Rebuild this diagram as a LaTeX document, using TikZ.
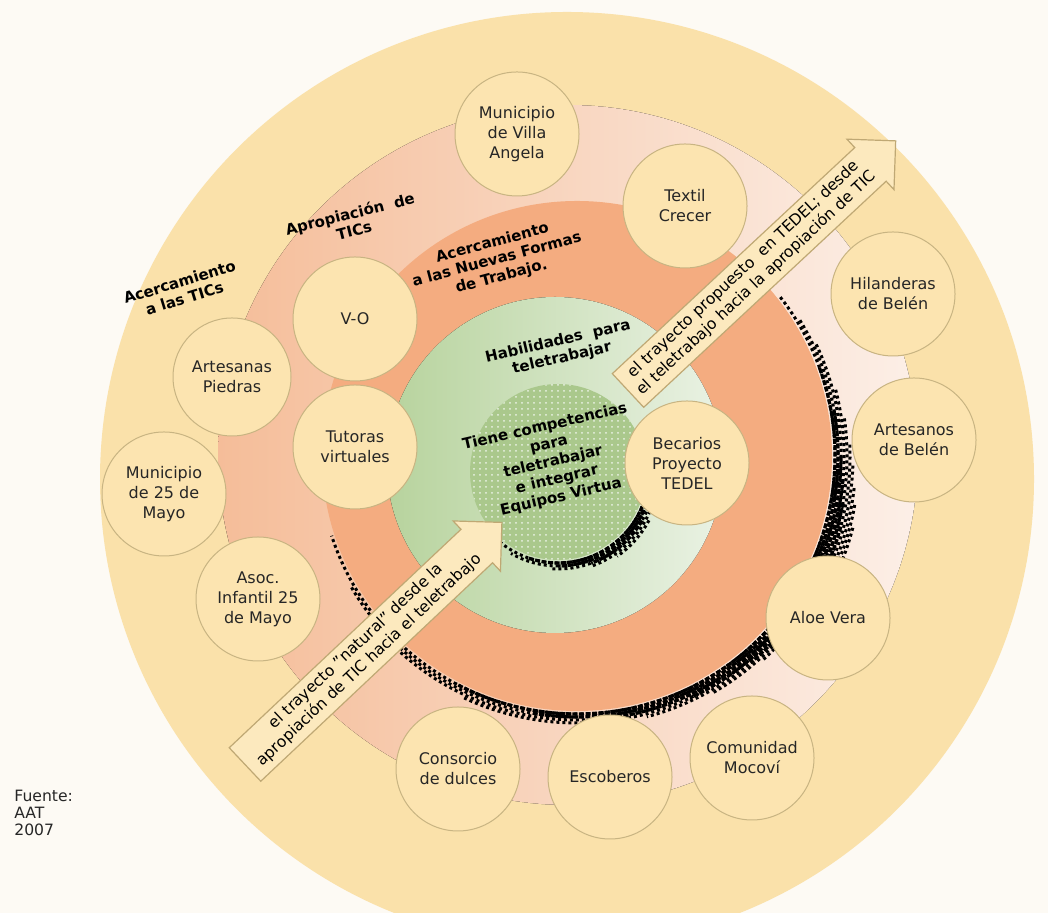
\documentclass[tikz,border=0pt]{standalone}
\usepackage{fontspec}
\setmainfont{DejaVu Sans}
\usetikzlibrary{patterns}
\definecolor{bgc}{HTML}{FDFAF4}
\definecolor{yel}{HTML}{FAE1AA}
\definecolor{salL}{HTML}{F5BD99}
\definecolor{salR}{HTML}{FCEFE7}
\definecolor{ora}{HTML}{F4AC80}
\definecolor{grL}{HTML}{B7D39D}
\definecolor{grR}{HTML}{EAF2E4}
\definecolor{grIn}{HTML}{AAC88C}
\definecolor{orgfill}{HTML}{FCE4B0}
\definecolor{orgline}{HTML}{C8B482}
\definecolor{arrfill}{HTML}{FCE9BE}
\definecolor{arrline}{HTML}{BFA874}
\definecolor{txt}{HTML}{262626}
\begin{document}
\begin{tikzpicture}[x=0.5pt,y=0.5pt,
  org/.style={circle, draw=orgline, line width=0.5pt, fill=orgfill, minimum size=62pt, inner sep=0pt, align=center, text=txt, font=\fontsize{8}{10}\selectfont},
  ringlabel/.style={align=center, font=\bfseries\fontsize{7.5}{8.7}\selectfont, text=black, inner sep=0pt},
  arrowtext/.style={align=center, font=\fontsize{7.8}{9.5}\selectfont, text=black, inner sep=0pt},
  blockarrow/.style={fill=arrfill, draw=arrline, line width=0.6pt, line join=miter},
  halftone/.style={black, line width=1.5pt, dash pattern=on 1.5pt off 1.5pt},
  halfcore/.style={black, line width=1.6pt, dash pattern=on 2.5pt off 0.8pt}
]
\useasboundingbox (0,0) rectangle (1048,913);
\clip (0,0) rectangle (1048,913);
\fill[bgc] (0,0) rectangle (1048,913);
% rings
\fill[yel] (567,434) circle[radius=467];
\fill[left color=salL, right color=salR] (568,458) circle[radius=350];
% halftone shadow of the orange ring
\foreach \r/\a/\b/\ph in {258/38/-162/0pt, 261/32/-150/1.5pt, 264/25/-140/0pt, 267/15/-115/1.5pt, 270/8/-75/0pt, 273/3/-60/1.5pt, 276/-2/-48/0pt, 279/-6/-40/1.5pt, 282/-10/-32/0pt, 285/-14/-26/1.5pt}
  \draw[halftone, dash phase=\ph] (577,457) ++(\a:\r) arc[start angle=\a, end angle=\b, radius=\r];
\foreach \r/\a/\b in {258/20/-118, 261/10/-100, 264/0/-85, 267/-5/-65, 270/-10/-50, 273/-15/-38}
  \draw[halfcore] (577,457) ++(\a:\r) arc[start angle=\a, end angle=\b, radius=\r];
\fill[ora] (577,457) circle[radius=255];
\fill[left color=grL, right color=grR] (555,448) circle[radius=168];
% halftone shadow of the inner circle
\foreach \r/\a/\b/\ph in {91/8/-135/0pt, 94/0/-120/1.5pt, 97/-10/-95/0pt, 100/-18/-70/1.5pt, 103/-28/-55/0pt}
  \draw[halftone, dash phase=\ph] (558,441) ++(\a:\r) arc[start angle=\a, end angle=\b, radius=\r];
\foreach \r/\a/\b in {91/-10/-110, 94/-20/-90, 97/-30/-70}
  \draw[halfcore] (558,441) ++(\a:\r) arc[start angle=\a, end angle=\b, radius=\r];
\fill[grIn] (558,441) circle[radius=88];
\fill[pattern=dots, pattern color=grR] (558,441) circle[radius=88];
% organisations
\node[org] (villa) at (517,779) {Municipio\\de Villa\\Angela};
\node[org] (textil) at (685,707) {Textil\\Crecer};
\node[org] (hiland) at (893,619) {Hilanderas\\de Belén};
\node[org] (artesanos) at (914,473) {Artesanos\\de Belén};
\node[org] (aloe) at (828,295) {Aloe Vera};
\node[org] (mocovi) at (752,155) {Comunidad\\Mocoví};
\node[org] (escob) at (610,136) {Escoberos};
\node[org] (consorcio) at (458,144) {Consorcio\\de dulces};
\node[org] (asoc) at (258,314) {Asoc.\\Infantil 25\\de Mayo};
\node[org] (muni25) at (164,419) {Municipio\\de 25 de\\Mayo};
\node[org, minimum size=59pt] (artesanas) at (232,536) {Artesanas\\Piedras};
\node[org] (vo) at (355,594) {V-O};
\node[org] (tutoras) at (355,466) {Tutoras\\virtuales};
\node[org] (becarios) at (687,450) {Becarios\\Proyecto\\TEDEL};
% block arrows
\begin{scope}[shift={(245,148.5)}, rotate=43.3]
  \draw[blockarrow] (0,-23) -- (318.5,-23) -- (318.5,-34.5) -- (353,0) -- (318.5,34.5) -- (318.5,23) -- (0,23) -- cycle;
  \node[arrowtext, rotate=43.3] (natural) at (162,0) {el trayecto "natural" desde la\\apropiación de TIC hacia el teletrabajo};
\end{scope}
\begin{scope}[shift={(628,522.5)}, rotate=43]
  \draw[blockarrow] (0,-23) -- (331.5,-23) -- (331.5,-34.5) -- (366,0) -- (331.5,34.5) -- (331.5,23) -- (0,23) -- cycle;
  \node[arrowtext, rotate=43] (tedel) at (167,0) {el trayecto propuesto\ \ en TEDEL; desde\\el teletrabajo hacia la apropiación de TIC};
\end{scope}
% ring labels
\node[ringlabel, rotate=17] (acTIC) at (182,623) {Acercamiento\\a las TICs};
\node[ringlabel, rotate=14] (apTIC) at (352,691) {Apropiación\ \ de\\TICs};
\node[ringlabel, rotate=15] (acNF) at (497,653) {Acercamiento\\a las Nuevas Formas\\de Trabajo.};
\node[ringlabel, rotate=13] (habil) at (560,563) {Habilidades\ \ para\\teletrabajar};
\node[ringlabel, rotate=13, font=\bfseries\fontsize{7.5}{9}\selectfont] (tiene) at (553,451) {Tiene competencias\\para\\teletrabajar\\e integrar\\Equipos Virtua};
% source
\node[anchor=north west, align=left, inner sep=0pt, text=txt, font=\fontsize{7.8}{8.5}\selectfont] (fuente) at (14,123) {Fuente:\\AAT\\2007};
\end{tikzpicture}
\end{document}
